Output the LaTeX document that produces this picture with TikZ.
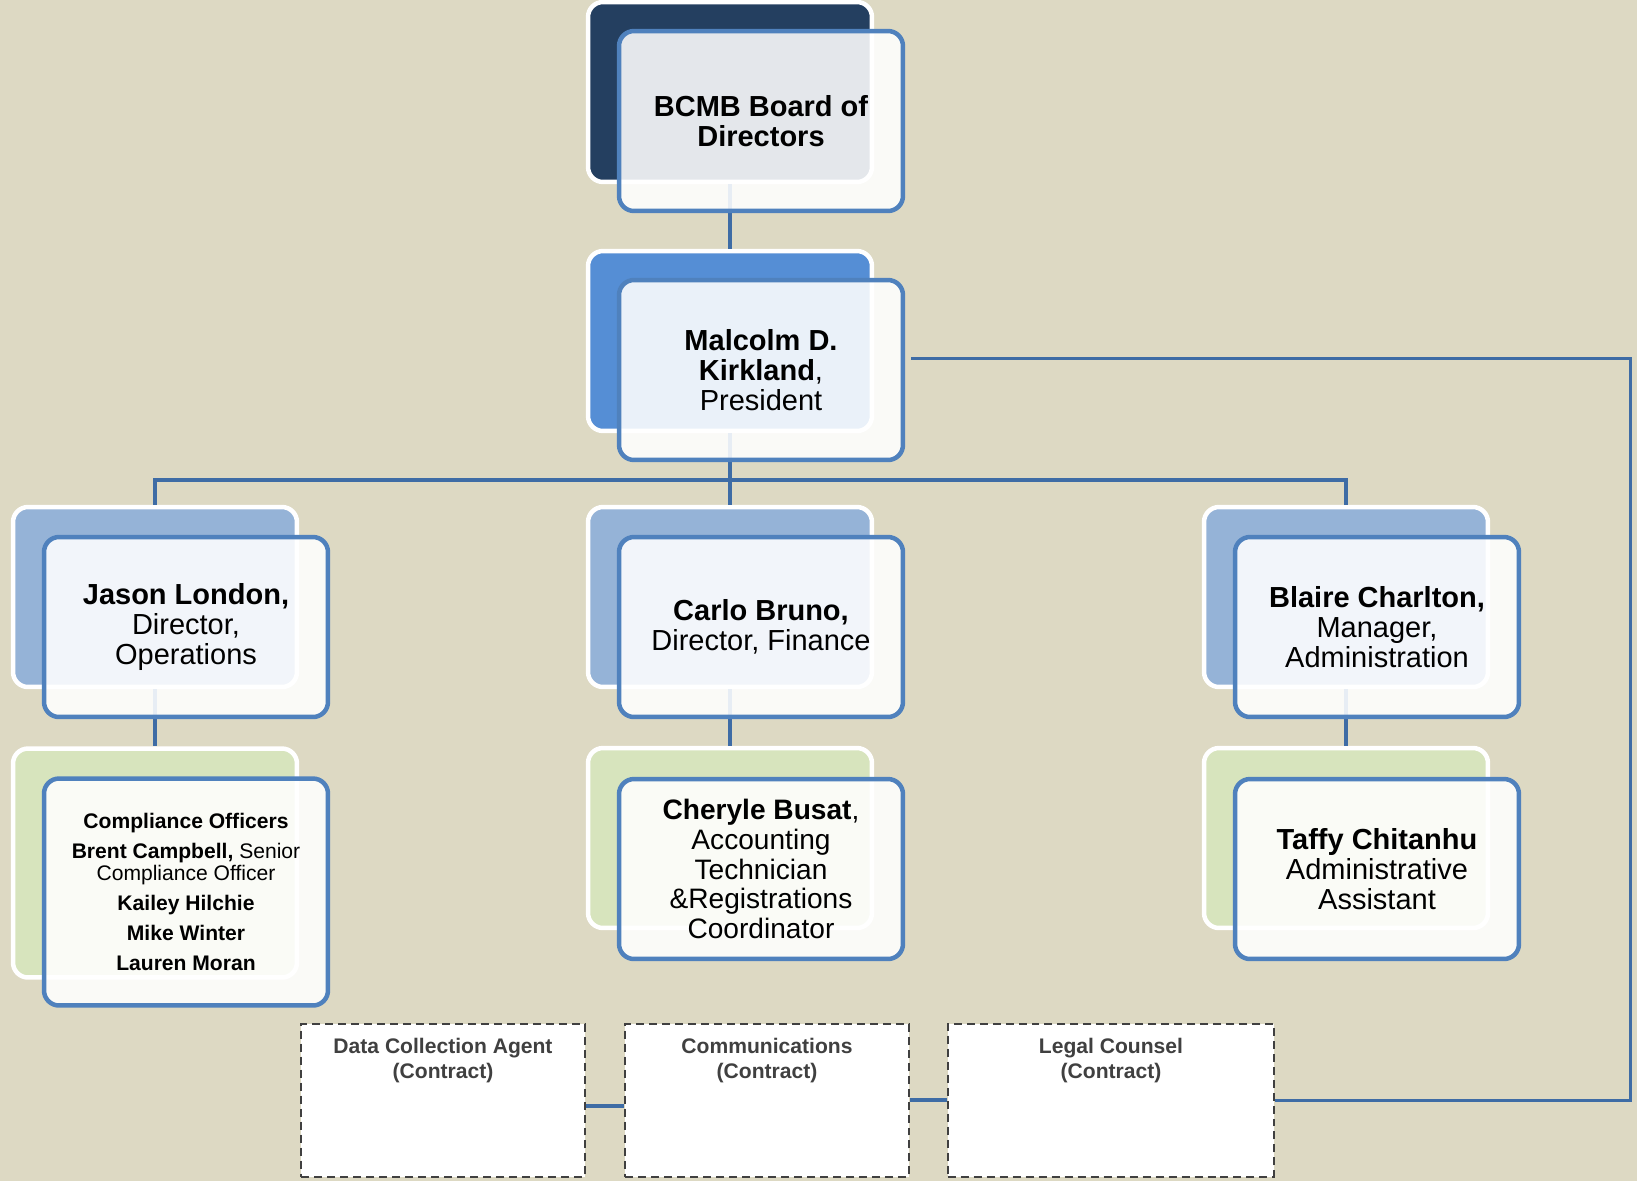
\documentclass[tikz,border=0pt]{standalone}
\usepackage{fontspec}
\setmainfont{Liberation Sans}
\usetikzlibrary{positioning}

\definecolor{bgtan}{HTML}{DDD9C3}
\definecolor{boardnavy}{HTML}{243F60}
\definecolor{presblue}{HTML}{558ED5}
\definecolor{dirblue}{HTML}{95B3D7}
\definecolor{staffgreen}{HTML}{D7E4BD}
\definecolor{frameblue}{HTML}{4F81BD}
\definecolor{linkblue}{HTML}{3E6CA5}
\definecolor{contractgray}{HTML}{404040}

\begin{document}
\begin{tikzpicture}[x=0.02cm,y=-0.02cm,
    backbox/.style={draw=white,line width=0.09cm,rounded corners=0.3cm,
        minimum width=5.68cm,minimum height=3.6cm,inner sep=0pt},
    frontbox/.style={draw=frameblue,line width=0.09cm,rounded corners=0.3cm,
        fill=white,fill opacity=0.88,text opacity=1,align=center,
        minimum width=5.68cm,minimum height=3.6cm,
        font=\fontsize{16.5}{17.2}\selectfont},
    conn/.style={draw=linkblue,line width=0.08cm},
    sideline/.style={draw=linkblue,line width=0.06cm},
    contractbox/.style={draw=contractgray,line width=0.04cm,
        dash pattern=on 0.16cm off 0.1cm,fill=white,
        minimum width=5.68cm,minimum height=3.06cm},
    contracttext/.style={font=\fontsize{12}{14.4}\selectfont\bfseries,
        text=contractgray,align=center,inner sep=0pt}]

    \fill[bgtan] (0,0) rectangle (1637,1181);
    \useasboundingbox (0,0) rectangle (1637,1181);

    % back boxes
    \node[backbox,fill=boardnavy] (boardback) at (730,92) {};
    \node[backbox,fill=presblue] (presback) at (730,341) {};
    \node[backbox,fill=dirblue] (opsback) at (155,597) {};
    \node[backbox,fill=dirblue] (finback) at (730,597) {};
    \node[backbox,fill=dirblue] (admback) at (1346,597) {};
    \node[backbox,fill=staffgreen,minimum height=4.58cm] (compback) at (155,863) {};
    \node[backbox,fill=staffgreen] (acctback) at (730,838) {};
    \node[backbox,fill=staffgreen] (asstback) at (1346,838) {};

    % tree lines
    \coordinate (bar) at (0,480);
    \draw[conn] (boardback) -- (presback);
    \draw[conn] (presback) -- (finback);
    \draw[conn] (opsback.north) -- (opsback.north |- bar) -| (admback.north);
    \draw[conn] (opsback) -- (compback);
    \draw[conn] (finback) -- (acctback);
    \draw[conn] (admback) -- (asstback);

    % front boxes
    \node[frontbox,font=\fontsize{16.5}{17.2}\selectfont\bfseries] (board) at (761,121)
        {BCMB Board of\\Directors};
    \node[frontbox] (pres) at (761,370)
        {\textbf{Malcolm D.}\\\textbf{Kirkland},\\President};
    \node[frontbox] (ops) at (186,627)
        {\textbf{Jason London,}\\Director,\\Operations};
    \node[frontbox] (fin) at (761,627)
        {\textbf{Carlo Bruno,}\\Director, Finance};
    \node[frontbox] (adm) at (1377,627)
        {\textbf{Blaire Charlton,}\\Manager,\\Administration};
    \node[frontbox,minimum height=4.54cm,font=\fontsize{12}{12.5}\selectfont] (comp) at (186,892)
        {\textbf{Compliance Officers}\\[4.5pt]
         \textbf{Brent Campbell,} Senior\\Compliance Officer\\[4.5pt]
         \textbf{Kailey Hilchie}\\[4.5pt]
         \textbf{Mike Winter}\\[4.5pt]
         \textbf{Lauren Moran}};
    \node[frontbox,font=\fontsize{16}{17}\selectfont] (acct) at (761,869)
        {\textbf{Cheryle Busat},\\Accounting\\Technician\\\&Registrations\\Coordinator};
    \node[frontbox] (asst) at (1377,869)
        {\textbf{Taffy Chitanhu}\\Administrative\\Assistant};

    % contract boxes
    \node[contractbox] (dca) at (443,1100) {};
    \node[contractbox] (comms) at (767,1100) {};
    \node[contractbox,minimum width=6.54cm] (legal) at (1111,1100) {};
    \node[contracttext,below=0.3cm of dca.north] (dcatext) {Data Collection Agent\\(Contract)};
    \node[contracttext,below=0.3cm of comms.north] (commstext) {Communications\\(Contract)};
    \node[contracttext,below=0.3cm of legal.north] (legaltext) {Legal Counsel\\(Contract)};

    \draw[conn] ([yshift=-0.12cm]dca.east) -- ([yshift=-0.12cm]comms.west);
    \draw[conn] (comms.east) -- (legal.west);

    % president to contracts
    \coordinate (presout) at (911,358);
    \coordinate (rightcorner) at (1630,1100);
    \draw[sideline] (presout) -| (rightcorner) -- (legal.east);

\end{tikzpicture}
\end{document}
